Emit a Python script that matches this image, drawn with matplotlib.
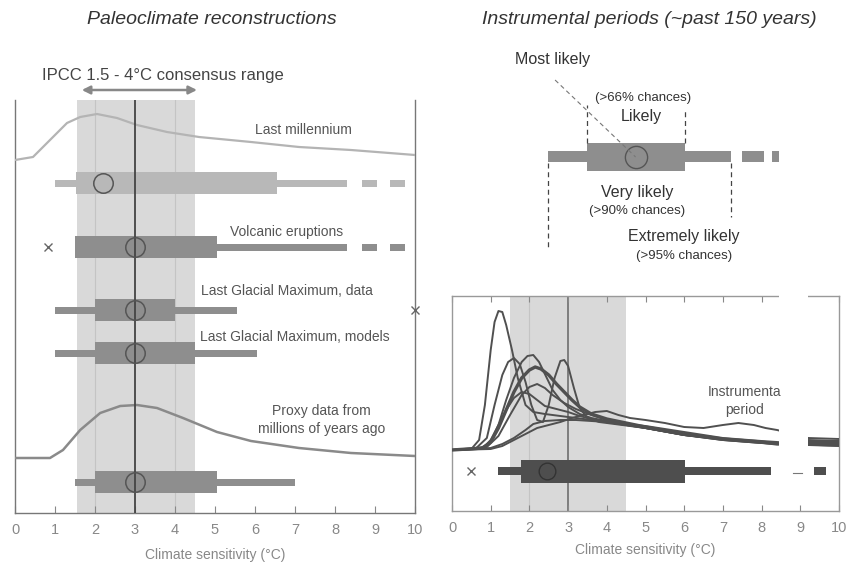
import numpy as np
import matplotlib
matplotlib.use("Agg")
import matplotlib.pyplot as plt
from matplotlib.patches import Rectangle

# ---- data: left panel (paleoclimate) ----
rows = ["Last millennium", "Volcanic eruptions", "Last Glacial Maximum, data",
        "Last Glacial Maximum, models", "Proxy data from\nmillions of years ago"]
thin_lo = [1.0, 1.5, 1.0, 1.0, 1.5]
thin_hi = [8.3, 8.3, 5.55, 6.05, 7.0]
box_lo = [1.53, 1.5, 2.0, 2.0, 2.0]
box_hi = [6.55, 5.05, 4.0, 4.5, 5.05]
best = [2.2, 3.0, 3.0, 3.0, 3.0]
tail_dash = [True, True, False, False, False]
outlier_x = [None, 0.83, 10.0, None, None]

lm_x = [0.0, 0.45, 0.875, 1.3, 1.63, 2.05, 2.55, 3.05, 3.8, 4.6, 5.9, 7.1, 8.4, 10.0]
lm_pdf = [0, 3, 20, 37, 43, 46, 42, 35, 28, 23, 18, 13, 10, 5]
proxy_x = [0.0, 0.875, 1.2, 1.63, 2.13, 2.63, 3.05, 3.55, 4.2, 5.05, 5.9, 7.1, 8.4, 10.0]
proxy_pdf = [0, 0, 8, 28, 45, 52, 53, 50, 40, 26, 17, 10, 5, 2]

# ---- data: right panel (instrumental) ----
inst_curves = [
    ([0, 0.5, 0.7, 0.85, 1.0, 1.1, 1.2, 1.3, 1.4, 1.55, 1.7, 1.9, 2.1, 2.4, 2.8, 3.2, 3.6, 4.0, 5.0, 6.0, 7.0, 8.0, 8.4, 9.2, 10],
     [0, 1, 10, 45, 100, 128, 139, 138, 125, 100, 72, 45, 38, 36, 34, 32, 30, 28, 22, 15, 11, 8, 7, 7, 6]),
    ([0, 0.6, 0.9, 1.1, 1.3, 1.45, 1.6, 1.75, 1.9, 2.05, 2.2, 2.35, 2.5, 2.65, 2.8, 2.9, 3.0, 3.15, 3.3, 3.5, 3.8, 4.2, 5, 6, 7, 8, 8.4, 9.2, 10],
     [0, 1, 12, 45, 75, 88, 92, 86, 68, 45, 30, 28, 45, 72, 89, 90, 84, 62, 42, 32, 28, 26, 22, 15, 11, 8, 7, 8, 7]),
    ([0, 0.7, 1.0, 1.2, 1.4, 1.6, 1.8, 1.95, 2.1, 2.25, 2.4, 2.6, 2.8, 3.0, 3.3, 3.6, 4.0, 4.5, 5, 6, 7, 8, 8.4, 9.2, 10],
     [0, 1, 8, 25, 50, 72, 88, 94, 95, 88, 76, 60, 50, 43, 36, 32, 29, 26, 23, 16, 11, 8, 7, 9, 8]),
    ([0, 0.8, 1.0, 1.2, 1.4, 1.6, 1.8, 2.0, 2.15, 2.3, 2.5, 2.7, 2.9, 3.1, 3.3, 3.6, 4.0, 4.5, 5, 6, 7, 8, 8.4, 9.2, 10],
     [0, 2, 8, 22, 40, 58, 72, 80, 83, 81, 75, 66, 58, 50, 43, 36, 31, 27, 23, 16, 11, 8, 6, 6, 5]),
    ([0, 0.8, 1.0, 1.2, 1.4, 1.6, 1.8, 2.0, 2.2, 2.4, 2.6, 2.8, 3.0, 3.3, 3.6, 4.0, 4.5, 5, 6, 7, 8, 8.4, 9.2, 10],
     [0, 2, 10, 25, 40, 52, 58, 56, 50, 44, 42, 40, 38, 34, 31, 28, 25, 22, 15, 10, 7, 6, 10, 9]),
    ([0, 1.0, 1.3, 1.6, 1.9, 2.2, 2.5, 2.8, 3.1, 3.4, 3.7, 4.0, 4.3, 4.6, 5.0, 5.5, 6.0, 6.5, 7.0, 7.4, 7.8, 8.1, 8.4, 9.2, 10],
     [0, 1, 4, 10, 16, 22, 25, 28, 32, 35, 38, 39, 35, 32, 30, 27, 23, 22, 25, 27, 25, 22, 20, 12, 11]),
    ([0, 1.0, 1.3, 1.6, 1.9, 2.1, 2.4, 2.8, 3.2, 3.6, 4.0, 4.5, 5, 5.5, 6, 7, 8, 8.4, 9.2, 10],
     [0, 2, 6, 12, 20, 26, 29, 30, 30, 29, 28, 26, 24, 21, 18, 12, 9, 8, 5, 4]),
    ([0, 0.9, 1.2, 1.5, 1.8, 2.0, 2.2, 2.4, 2.6, 2.9, 3.2, 3.6, 4.0, 4.5, 5, 6, 7, 8, 8.4, 9.2, 10],
     [0, 3, 14, 35, 55, 63, 66, 62, 55, 47, 41, 35, 30, 26, 22, 15, 10, 7, 6, 7, 6]),
]
inst_thin = (1.2, 8.25)
inst_box = (1.78, 6.03)
inst_best = 2.45
inst_outlier = 0.5

# ---- data: schematic legend ----
sch_thin = (2.46, 7.18)
sch_box = (3.46, 6.0)
sch_best = 4.72

narrow = ["Liberation Sans", "DejaVu Sans"]
plain = ["Liberation Sans", "DejaVu Sans"]
band_c = "#d9d9d9"
txt_c = "#555555"

fig = plt.figure(figsize=(8.48, 5.65), dpi=100)

# ================= left panel =================
ax = fig.add_axes([15 / 848, 52 / 565, 400 / 848, 413 / 565])
ax.set_xlim(0, 10)
ax.set_ylim(0, 413)
ax.axvspan(1.55, 4.5, color=band_c, lw=0, zorder=0)
for xv in (2, 4):
    ax.axvline(xv, color="#c4c4c4", lw=0.8, zorder=0.5)
ax.axvline(3, color="#444444", lw=1.3, zorder=4)

row_y = [330, 266, 203, 160, 31]
for i, name in enumerate(rows):
    y = row_y[i]
    col = "#b8b8b8" if i == 0 else "#8e8e8e"
    ax.barh(y, thin_hi[i] - thin_lo[i], left=thin_lo[i], height=7, color=col, lw=0, zorder=2)
    ax.barh(y, box_hi[i] - box_lo[i], left=box_lo[i], height=22, color=col, lw=0, zorder=2)
    if tail_dash[i]:
        ax.barh([y, y], [0.38, 0.37], left=[8.67, 9.38], height=7, color=col, lw=0, zorder=2)
    ax.plot(best[i], y, "o", ms=14, mfc="none", mec="#555555", mew=1.1, zorder=5)
    if outlier_x[i] is not None:
        ax.plot(outlier_x[i], y, "x", ms=6, color="#666666", mew=1.0, zorder=5, clip_on=False)

ax.plot(lm_x, [353 + v for v in lm_pdf], color="#b4b4b4", lw=1.6, zorder=3)
ax.plot(proxy_x, [55 + v for v in proxy_pdf], color="#8a8a8a", lw=1.8, zorder=3)

lab_pos = [(7.2, 383), (6.78, 281), (6.8, 222), (7.0, 176), (7.67, 93)]
for name, (lx, ly) in zip(rows, lab_pos):
    ax.text(lx, ly, name, ha="center", va="center", fontsize=10, color=txt_c,
            family=narrow, linespacing=1.3, zorder=6)

ax.annotate("", xy=(1.67, 423), xytext=(4.55, 423), annotation_clip=False,
            arrowprops=dict(arrowstyle="<|-|>", color="#888888", lw=1.8,
                            mutation_scale=12, shrinkA=0, shrinkB=0))
ax.text(3.7, 438, "IPCC 1.5 - 4°C consensus range", ha="center", va="center",
        fontsize=12, color="#444444", family=plain, clip_on=False)

ax.spines["top"].set_visible(False)
for s in ("left", "right", "bottom"):
    ax.spines[s].set_color("#777777")
    ax.spines[s].set_linewidth(1.0)
ax.set_yticks([])
ax.set_xticks(range(11))
ax.tick_params(axis="x", direction="in", length=5, color="#888888", pad=7,
               labelsize=10.5, labelcolor="#888888")
for t in ax.get_xticklabels():
    t.set_family(narrow)
ax.set_xlabel("Climate sensitivity (°C)", fontsize=10, color="#888888",
              family=narrow, labelpad=8)

# ================= right panel =================
ax2 = fig.add_axes([452 / 848, 54 / 565, 387 / 848, 215 / 565])
ax2.set_xlim(0, 10)
ax2.set_ylim(0, 215)
ax2.axvspan(1.5, 4.5, color=band_c, lw=0, zorder=0)
ax2.axvline(2, color="#c4c4c4", lw=0.8, zorder=0.5)
ax2.axvline(3, color="#777777", lw=1.3, zorder=1)

base = 61
for k, (cx, cy) in enumerate(inst_curves):
    ax2.plot(cx, [base + v for v in cy], color="#505050",
             lw=2.4 if k == 3 else 1.4, zorder=3)

ybar = 40
ax2.barh(ybar, inst_thin[1] - inst_thin[0], left=inst_thin[0], height=8, color="#4e4e4e", lw=0, zorder=2)
ax2.barh(ybar, inst_box[1] - inst_box[0], left=inst_box[0], height=23, color="#4e4e4e", lw=0, zorder=2)
ax2.barh(ybar, 0.32, left=9.35, height=8, color="#4e4e4e", lw=0, zorder=2)
ax2.plot([8.8, 9.05], [ybar - 2, ybar - 2], color="#777777", lw=0.8, zorder=2)
ax2.plot(inst_best, ybar, "o", ms=12, mfc="none", mec="#333333", mew=1.0, zorder=5)
ax2.plot(inst_outlier, ybar, "x", ms=6, color="#666666", mew=1.0, zorder=5)

# white gap that breaks the curves and the top frame
ax2.add_patch(Rectangle((8.45, 52), 0.75, 170, facecolor="white", edgecolor="none",
                        zorder=4, clip_on=False))
ax2.text(7.55, 110, "Instrumenta\nperiod", ha="center", va="center", fontsize=10,
         color=txt_c, family=narrow, linespacing=1.3, zorder=6)

for s in ax2.spines.values():
    s.set_color("#999999")
    s.set_linewidth(1.0)
ax2.set_yticks([])
ax2.set_xticks(range(11))
ax2.tick_params(axis="x", direction="in", length=4, color="#888888", pad=7,
                labelsize=10.5, labelcolor="#888888", top=True)
for t in ax2.get_xticklabels():
    t.set_family(narrow)
ax2.set_xlabel("Climate sensitivity (°C)", fontsize=10, color="#888888",
               family=narrow, labelpad=6)

# ================= schematic legend =================
ax3 = fig.add_axes([452 / 848, 295 / 565, 389 / 848, 230 / 565])
ax3.set_xlim(0, 10)
ax3.set_ylim(0, 230)
ax3.axis("off")
yb = 113
sc = "#8e8e8e"
ax3.barh(yb, sch_thin[1] - sch_thin[0], left=sch_thin[0], height=11, color=sc, lw=0)
ax3.barh(yb, sch_box[1] - sch_box[0], left=sch_box[0], height=28, color=sc, lw=0)
ax3.barh([yb, yb], [0.57, 0.18], left=[7.46, 8.23], height=11, color=sc, lw=0)
ax3.plot(sch_best, yb, "o", ms=16, mfc="none", mec="#555555", mew=1.0)
dash = dict(color="#444444", lw=0.9, ls=(0, (4, 3)))
ax3.plot([sch_box[0], sch_box[0]], [yb + 14, 165], **dash)
ax3.plot([sch_box[1], sch_box[1]], [yb + 14, 162], **dash)
ax3.plot([sch_thin[0], sch_thin[0]], [yb - 6, 20], **dash)
ax3.plot([sch_thin[1], sch_thin[1]], [yb - 6, 53], **dash)
ax3.plot([2.65, sch_best], [190, yb], color="#777777", lw=0.8, ls=(0, (4, 3)))

big = dict(ha="center", va="center", fontsize=11.5, color="#333333", family=plain)
small = dict(ha="center", va="center", fontsize=9.5, color="#333333", family=plain)
ax3.text(2.59, 210, "Most likely", **big)
ax3.text(4.9, 172, "(>66% chances)", **small)
ax3.text(4.87, 153, "Likely", **big)
ax3.text(4.77, 77, "Very likely", **big)
ax3.text(4.77, 59, "(>90% chances)", **small)
ax3.text(5.97, 33, "Extremely likely", **big)
ax3.text(5.97, 14, "(>95% chances)", **small)

# ---- titles ----
fig.text(212 / 848, 1 - 20 / 565, "Paleoclimate reconstructions", ha="center", va="center",
         fontsize=14, style="italic", color="#333333", family=plain)
fig.text(649 / 848, 1 - 20 / 565, "Instrumental periods (~past 150 years)", ha="center",
         va="center", fontsize=14, style="italic", color="#333333", family=plain)

fig.savefig("out.png", dpi=100)
